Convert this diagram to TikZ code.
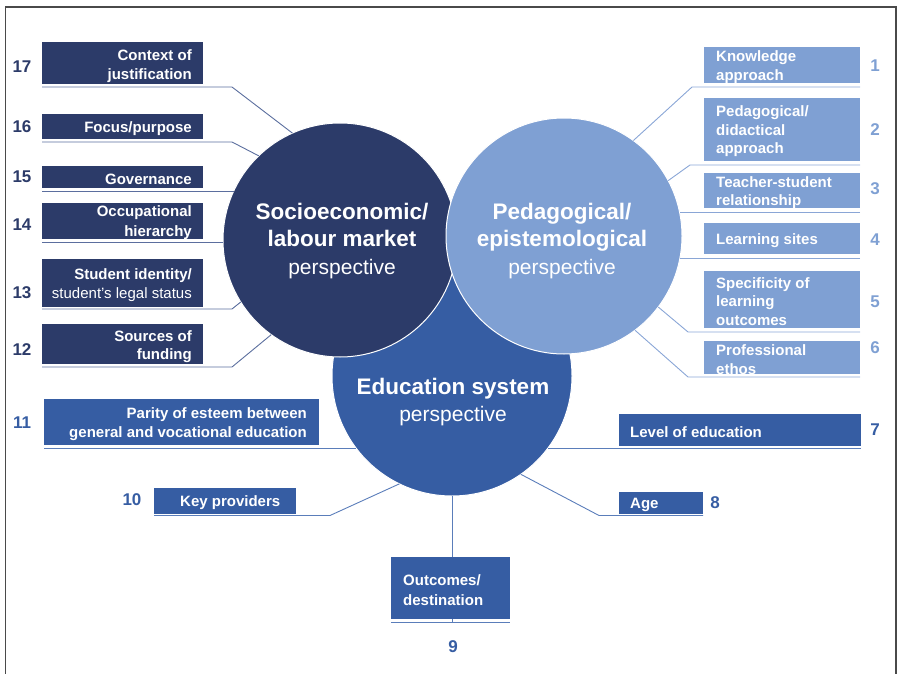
\documentclass[tikz,border=0pt]{standalone}
\usepackage{fontspec}
\setmainfont{Liberation Sans}
\definecolor{navy}{HTML}{2C3B69}
\definecolor{lightb}{HTML}{7FA0D3}
\definecolor{medb}{HTML}{365DA3}
\definecolor{navyln}{HTML}{5B6E9E}
\definecolor{lightln}{HTML}{8AA6D6}
\definecolor{medln}{HTML}{5A7DBA}
\definecolor{framec}{HTML}{4A4A4A}
\begin{document}
\begin{tikzpicture}[x=1pt,y=-1pt,
  boxn/.style={inner sep=0pt, outer sep=0pt, draw=none},
  txt/.style={text=white, font=\bfseries\fontsize{15}{18.5}\selectfont, inner sep=0pt, yshift=-2pt},
  num/.style={font=\bfseries\fontsize{17}{20}\selectfont, inner sep=0pt},
  circ/.style={circle, draw=white, line width=1pt, inner sep=0pt, outer sep=0pt},
  ctitle/.style={text=white, align=center, inner sep=0pt, font=\fontsize{22.5}{27.5}\selectfont},
  lnL/.style={draw=navyln, line width=0.9pt},
  lnR/.style={draw=lightln, line width=0.9pt},
  lnM/.style={draw=medln, line width=0.9pt}]
\useasboundingbox (0,0) rectangle (897,674);
\draw[framec, line width=1.5pt] (5.5,674) -- (5.5,7) -- (896,7) -- (896,674);

% circles
\node[circ, fill=medb, minimum size=240pt] (ed) at (452,376) {};
\node[circ, fill=navy, minimum size=234pt] (se) at (340,240) {};
\node[circ, fill=lightb, minimum size=236pt] (pe) at (564,236) {};
\node[ctitle] (tse) at (342,241) {\textbf{Socioeconomic/}\\\textbf{labour market}\\{\fontsize{21}{27.5}\selectfont perspective}};
\node[ctitle] (tpe) at (562,241) {\textbf{Pedagogical/}\\\textbf{epistemological}\\{\fontsize{21}{27.5}\selectfont perspective}};
\node[ctitle, font=\fontsize{22.5}{26.5}\selectfont] (ted) at (453,402) {\textbf{Education system}\\{\fontsize{21}{26.5}\selectfont perspective}};

% left boxes
\node[boxn, fill=navy, minimum width=161pt, minimum height=42pt] (b17) at (122.5,63) {};
\node[boxn, fill=navy, minimum width=161pt, minimum height=25pt] (b16) at (122.5,126.5) {};
\node[boxn, fill=navy, minimum width=161pt, minimum height=22pt] (b15) at (122.5,177) {};
\node[boxn, fill=navy, minimum width=161pt, minimum height=36pt] (b14) at (122.5,221) {};
\node[boxn, fill=navy, minimum width=161pt, minimum height=48pt] (b13) at (122.5,283) {};
\node[boxn, fill=navy, minimum width=161pt, minimum height=40pt] (b12) at (122.5,344) {};
\node[txt, align=right, anchor=east] (t17) at (192,64) {Context of\\justification};
\node[txt, align=right, anchor=east] (t16) at (192,127) {Focus/purpose};
\node[txt, align=right, anchor=east] (t15) at (192,177) {Governance};
\node[txt, align=right, anchor=east, font=\bfseries\fontsize{15}{20}\selectfont] (t14) at (192,221) {Occupational\\hierarchy};
\node[txt, align=right, anchor=east] (t13) at (192,283) {Student identity/\\{\mdseries student's legal status}};
\node[txt, align=right, anchor=east] (t12) at (192,344.5) {Sources of\\funding};
\node[num, text=navy] (n17) at (22,67) {17};
\node[num, text=navy] (n16) at (22,127) {16};
\node[num, text=navy] (n15) at (22,177) {15};
\node[num, text=navy] (n14) at (22,225) {14};
\node[num, text=navy] (n13) at (22,293) {13};
\node[num, text=navy] (n12) at (22,350) {12};

% right boxes
\node[boxn, fill=lightb, minimum width=156pt, minimum height=36pt] (b1) at (782,65) {};
\node[boxn, fill=lightb, minimum width=156pt, minimum height=63pt] (b2) at (782,129.5) {};
\node[boxn, fill=lightb, minimum width=156pt, minimum height=35pt] (b3) at (782,190.5) {};
\node[boxn, fill=lightb, minimum width=156pt, minimum height=31pt] (b4) at (782,238.5) {};
\node[boxn, fill=lightb, minimum width=156pt, minimum height=57pt] (b5) at (782,299.5) {};
\node[boxn, fill=lightb, minimum width=156pt, minimum height=33pt] (b6) at (782,357.5) {};
\node[txt, align=left, anchor=west] (t1) at (716,65) {Knowledge\\approach};
\node[txt, align=left, anchor=west] (t2) at (716,129.5) {Pedagogical/\\didactical\\approach};
\node[txt, align=left, anchor=west] (t3) at (716,190.5) {Teacher-student\\relationship};
\node[txt, align=left, anchor=west] (t4) at (716,238.5) {Learning sites};
\node[txt, align=left, anchor=west] (t5) at (716,299.5) {Specificity of\\learning\\outcomes};
\node[txt, align=left, anchor=west] (t6) at (716,357.5) {Professional\\ethos};
\node[num, text=lightb] (n1) at (875,66) {1};
\node[num, text=lightb] (n2) at (875,130) {2};
\node[num, text=lightb] (n3) at (875,189) {3};
\node[num, text=lightb] (n4) at (875,240) {4};
\node[num, text=lightb] (n5) at (875,302) {5};
\node[num, text=lightb] (n6) at (875,348) {6};

% bottom boxes
\node[boxn, fill=medb, minimum width=275pt, minimum height=46pt] (b11) at (181.5,422) {};
\node[boxn, fill=medb, minimum width=142pt, minimum height=26pt] (b10) at (225,501) {};
\node[boxn, fill=medb, minimum width=242pt, minimum height=32pt] (b7) at (740,430) {};
\node[boxn, fill=medb, minimum width=84pt, minimum height=22pt] (b8) at (661,503) {};
\node[txt, align=right, anchor=east] (t11) at (307,422) {Parity of esteem between\\general and vocational education};
\node[txt, align=left, anchor=west] (t10) at (180,501) {Key providers};
\node[txt, align=left, anchor=west] (t7) at (630,430) {Level of education};
\node[txt, align=left, anchor=west] (t8) at (630,503) {Age};
\node[num, text=medb] (n11) at (22,423) {11};
\node[num, text=medb] (n10) at (132,500) {10};
\node[num, text=medb] (n7) at (875,430) {7};
\node[num, text=medb] (n8) at (715,503) {8};
\node[num, text=medb] (n9) at (453,647) {9};

% line start coordinates
\coordinate (s17) at ([yshift=-3pt]b17.south west);
\coordinate (s16) at ([yshift=-3pt]b16.south west);
\coordinate (s15) at ([yshift=-3pt]b15.south west);
\coordinate (s14) at ([yshift=-3pt]b14.south west);
\coordinate (s13) at ([yshift=-2pt]b13.south west);
\coordinate (s12) at ([yshift=-3pt]b12.south west);
\coordinate (s1) at ([yshift=-4pt]b1.south east);
\coordinate (s2) at ([yshift=-4pt]b2.south east);
\coordinate (s3) at ([yshift=-4.5pt]b3.south east);
\coordinate (s4) at ([yshift=-4pt]b4.south east);
\coordinate (s5) at ([yshift=-4pt]b5.south east);
\coordinate (s6) at ([yshift=-3pt]b6.south east);
\coordinate (s11) at ([yshift=-3pt]b11.south west);
\coordinate (s10) at ([yshift=-1.5pt]b10.south west);
\coordinate (s7) at ([yshift=-2pt]b7.south east);
\coordinate (s8) at ([yshift=-1.5pt]b8.south east);
% bend points
\coordinate (k17) at (232,87);
\coordinate (k16) at (232,142);
\coordinate (k13) at (232,309);
\coordinate (k12) at (232,367);
\coordinate (k1) at (692,87);
\coordinate (k2) at (690,165);
\coordinate (k5) at (688,332);
\coordinate (k6) at (688,377);
\coordinate (k10) at (330,515.5);
\coordinate (k8) at (599,515.5);
\coordinate (k9) at (452,622);

% left connectors
\draw[lnL] (s17) -- (k17) -- (se.114);
\draw[lnL] (s16) -- (k16) -- (se.134);
\draw[lnL] (s15) -- (se.155 |- s15);
\draw[lnL] (s14) -- (se.181 |- s14);
\draw[lnL] (s13) -- (k13) -- (se.212);
\draw[lnL] (s12) -- (k12) -- (se.234);
% right connectors
\draw[lnR] (s1) -- (k1) -- (pe.54);
\draw[lnR] (s2) -- (k2) -- (pe.28);
\draw[lnR] (s3) -- (pe.11 |- s3);
\draw[lnR] (s4) -- (pe.349 |- s4);
\draw[lnR] (s5) -- (k5) -- (pe.323);
\draw[lnR] (s6) -- (k6) -- (pe.307);
% bottom connectors
\draw[lnM] (s11) -- (ed.217 |- s11);
\draw[lnM] (s10) -- (k10) -- (ed.244);
\draw[lnM] (s7) -- (ed.323 |- s7);
\draw[lnM] (s8) -- (k8) -- (ed.305);
\draw[lnM] (ed.270) -- (k9);

% box 9 (drawn over its connector)
\node[boxn, fill=medb, minimum width=119pt, minimum height=62pt] (b9) at (450.5,588) {};
\node[txt, align=left, anchor=west, font=\bfseries\fontsize{15}{20.5}\selectfont] (t9) at (403,588) {Outcomes/\\destination};
\draw[lnM] ([yshift=-3pt]b9.south west) -- ([yshift=-3pt]b9.south east);
\end{tikzpicture}
\end{document}
